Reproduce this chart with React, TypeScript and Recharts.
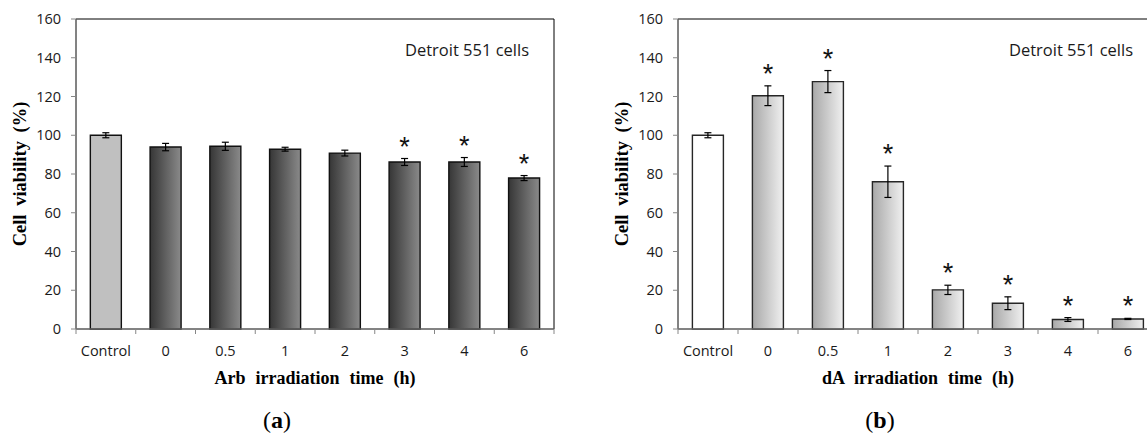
import React from "react";
import {
  ComposedChart,
  Bar,
  Line,
  XAxis,
  YAxis,
  ErrorBar,
  Cell,
  ReferenceArea,
  Label,
} from "recharts";

// categories shared by both panels
const categories = ["Control", "0", "0.5", "1", "2", "3", "4", "6"];
const yTicks = [0, 20, 40, 60, 80, 100, 120, 140, 160];

// (a) Arb irradiation
const arbMean = [100, 93.9, 94.3, 92.8, 90.8, 86.2, 86.2, 77.9];
const arbErr = [1.3, 1.9, 2.1, 1.0, 1.5, 1.8, 2.3, 1.3];
const arbSig = [false, false, false, false, false, true, true, true];

// (b) dA irradiation
const daMean = [100, 120.4, 127.7, 76, 20.2, 13.3, 4.9, 5.2];
const daErr = [1.3, 5.1, 5.7, 8.1, 2.4, 3.3, 1.0, 0.3];
const daSig = [false, true, true, true, true, true, true, true];

const AXIS = "#868686";
const TICK_FONT = "'Open Sans', sans-serif";
const SERIF = "'Liberation Serif', 'Times New Roman', serif";

function buildRows(mean: number[], err: number[], sig: boolean[]) {
  return categories.map((name, i) => ({
    name,
    mean: mean[i],
    err: err[i],
    star: sig[i] ? mean[i] + err[i] : null,
  }));
}

// Excel-like category ticks: marks on the category boundaries
function CategoryTick(props: any) {
  const { x, y, payload, index, visibleTicksCount } = props;
  const half = payload?.offset ?? 30;
  return (
    <g>
      <line x1={x - half} x2={x - half} y1={y} y2={y + 5} stroke={AXIS} />
      {index === visibleTicksCount - 1 && (
        <line x1={x + half} x2={x + half} y1={y} y2={y + 5} stroke={AXIS} />
      )}
      <text
        x={x}
        y={y + 27}
        textAnchor="middle"
        fontFamily={TICK_FONT}
        fontSize={14.5}
        fill="#1a1a1a"
      >
        {payload.value}
      </text>
    </g>
  );
}

function renderStar(props: any) {
  const { cx, cy, index } = props;
  if (cx == null || cy == null || Number.isNaN(cy)) return <g key={`s${index}`} />;
  return (
    <text
      key={`s${index}`}
      x={cx}
      y={cy - 3}
      textAnchor="middle"
      fontFamily="'Liberation Sans', Arial, sans-serif"
      fontSize={27}
      fill="#111"
    >
      *
    </text>
  );
}

interface PanelProps {
  left: number;
  width: number;
  mean: number[];
  err: number[];
  sig: boolean[];
  xTitle: string;
  gradId: string;
  gradFrom: string;
  gradTo: string;
  controlFill: string;
  barStroke: string;
}

function Panel({
  left,
  width,
  mean,
  err,
  sig,
  xTitle,
  gradId,
  gradFrom,
  gradTo,
  controlFill,
  barStroke,
}: PanelProps) {
  const rows = buildRows(mean, err, sig);
  return (
    <div style={{ position: "absolute", left, top: 0 }}>
      <ComposedChart
        width={width}
        height={439}
        data={rows}
        margin={{ top: 19, right: 16, bottom: 80, left: 0 }}
        barCategoryGap="24%"
      >
        <defs>
          <linearGradient id={gradId} x1="0" y1="0" x2="1" y2="0">
            <stop offset="0%" stopColor={gradFrom} />
            <stop offset="100%" stopColor={gradTo} />
          </linearGradient>
        </defs>
        <ReferenceArea
          y1={0}
          y2={160}
          fill="none"
          stroke="#000"
          strokeWidth={1}
          ifOverflow="visible"
        >
          <Label
            value="Detroit 551 cells"
            position="insideTopRight"
            offset={25}
            fontFamily={TICK_FONT}
            fontSize={16.5}
            fill="#1a1a1a"
          />
        </ReferenceArea>
        <XAxis
          dataKey="name"
          axisLine={{ stroke: AXIS }}
          tickLine={false}
          tickSize={0}
          tickMargin={0}
          height={30}
          interval={0}
          tick={<CategoryTick />}
          label={{
            content: (p: any) => {
              const vb = p.viewBox;
              return (
                <text
                  x={vb.x + vb.width / 2}
                  y={vb.y + 55}
                  textAnchor="middle"
                  fontFamily={SERIF}
                  fontWeight="bold"
                  fontSize={18}
                  wordSpacing={5.5}
                  fill="#000"
                >
                  {xTitle}
                </text>
              );
            },
          }}
        />
        <YAxis
          domain={[0, 160]}
          ticks={yTicks}
          interval={0}
          width={76}
          axisLine={{ stroke: AXIS }}
          tickLine={{ stroke: AXIS }}
          tickSize={5}
          tickMargin={10}
          tick={{ fontFamily: TICK_FONT, fontSize: 14.5, fill: "#1a1a1a" }}
          label={{
            content: (p: any) => {
              const vb = p.viewBox;
              const bx = vb.x + 26;
              const cy = vb.y + vb.height / 2;
              return (
                <text
                  x={bx}
                  y={cy}
                  transform={`rotate(-90, ${bx}, ${cy})`}
                  textAnchor="middle"
                  fontFamily={SERIF}
                  fontWeight="bold"
                  fontSize={18.5}
                  wordSpacing={4}
                  fill="#000"
                >
                  Cell viability (%)
                </text>
              );
            },
          }}
        />
        <Bar
          dataKey="mean"
          stroke={barStroke}
          strokeWidth={1.4}
          isAnimationActive={false}
        >
          {rows.map((r, i) => (
            <Cell key={r.name} fill={i === 0 ? controlFill : `url(#${gradId})`} />
          ))}
          <ErrorBar
            dataKey="err"
            direction="y"
            width={3.5}
            stroke="#000"
            strokeWidth={1.2}
            isAnimationActive={false}
          />
        </Bar>
        <Line
          dataKey="star"
          stroke="none"
          dot={renderStar}
          activeDot={false}
          legendType="none"
          isAnimationActive={false}
        />
      </ComposedChart>
    </div>
  );
}

export default function App() {
  return (
    <div
      style={{
        position: "absolute",
        left: 0,
        top: 0,
        width: 1147,
        height: 439,
        overflow: "hidden",
        background: "#fff",
      }}
    >
      <Panel
        left={0}
        width={570}
        mean={arbMean}
        err={arbErr}
        sig={arbSig}
        xTitle="Arb irradiation time (h)"
        gradId="gradArb"
        gradFrom="#363636"
        gradTo="#8a8a8a"
        controlFill="#c0c0c0"
        barStroke="#111"
      />
      <Panel
        left={602}
        width={572}
        mean={daMean}
        err={daErr}
        sig={daSig}
        xTitle="dA irradiation time (h)"
        gradId="gradDa"
        gradFrom="#a8a8a8"
        gradTo="#f0f0f0"
        controlFill="#ffffff"
        barStroke="#262626"
      />
      <div
        style={{
          position: "absolute",
          left: 227,
          width: 100,
          top: 405,
          textAlign: "center",
          fontFamily: SERIF,
          fontSize: 24,
          lineHeight: "30px",
        }}
      >
        (<b>a</b>)
      </div>
      <div
        style={{
          position: "absolute",
          left: 830,
          width: 100,
          top: 405,
          textAlign: "center",
          fontFamily: SERIF,
          fontSize: 24,
          lineHeight: "30px",
        }}
      >
        (<b>b</b>)
      </div>
    </div>
  );
}
